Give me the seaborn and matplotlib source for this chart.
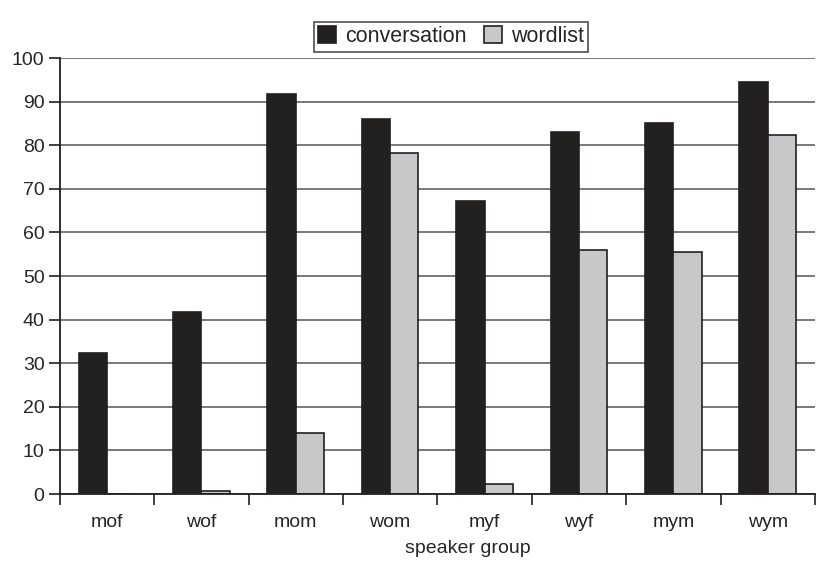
import numpy as np
import pandas as pd
import seaborn as sns
import matplotlib.pyplot as plt
from matplotlib.ticker import FixedLocator

# values
groups = ['mof', 'wof', 'mom', 'wom', 'myf', 'wyf', 'mym', 'wym']
conversation = [32.3, 41.8, 91.8, 86.0, 67.3, 83.0, 85.0, 94.6]
wordlist = [0.0, 0.7, 14.1, 78.3, 2.2, 56.0, 55.5, 82.3]

df = pd.DataFrame({
    'group': groups * 2,
    'value': conversation + wordlist,
    'task': ['conversation'] * len(groups) + ['wordlist'] * len(groups),
})

sns.set_style('white')
plt.rcParams['font.family'] = ['Liberation Sans', 'DejaVu Sans']

fig = plt.figure(figsize=(8.19, 5.64), dpi=100)
ax = fig.add_axes([0.073, 0.124, 0.922, 0.773])

sns.barplot(data=df, x='group', y='value', hue='task',
            palette={'conversation': '#231f20', 'wordlist': '#c8c8ca'},
            width=0.6, edgecolor='#231f20', linewidth=1.2, ax=ax,
            legend=True)

ax.set_ylim(0, 100)
ax.set_xlim(-0.5, len(groups) - 0.5)
ax.set_yticks(range(0, 101, 10))
ax.yaxis.grid(True, color='#555555', linewidth=1.1)
ax.set_axisbelow(True)

for s in ['top', 'right']:
    ax.spines[s].set_visible(False)
for s in ['left', 'bottom']:
    ax.spines[s].set_color('#231f20')
    ax.spines[s].set_linewidth(1.3)

# ticks between categories, labels in the middle
ax.xaxis.set_minor_locator(FixedLocator(np.arange(-0.5, len(groups), 1)))
ax.tick_params(axis='x', which='major', bottom=True, length=0, labelsize=14, pad=14)
ax.tick_params(axis='x', which='minor', bottom=True, length=8, width=1.2,
               color='#231f20', direction='out')
ax.tick_params(axis='y', left=True, length=8, width=1.2, color='#231f20',
               direction='out', labelsize=14, pad=3)
ax.set_xlabel('speaker group', fontsize=14)
ax.xaxis.set_label_coords(0.54, -0.105)
ax.set_ylabel('')

leg = ax.legend(loc='lower center', bbox_to_anchor=(0.518, 1.005), ncol=2, frameon=True,
                fancybox=False, edgecolor='#231f20', fontsize=15.5,
                handlelength=0.85, handleheight=0.85, handletextpad=0.4,
                columnspacing=0.8, borderpad=0.2, borderaxespad=0.2)
leg.get_frame().set_linewidth(1.2)

fig.savefig('out.png', dpi=100)
